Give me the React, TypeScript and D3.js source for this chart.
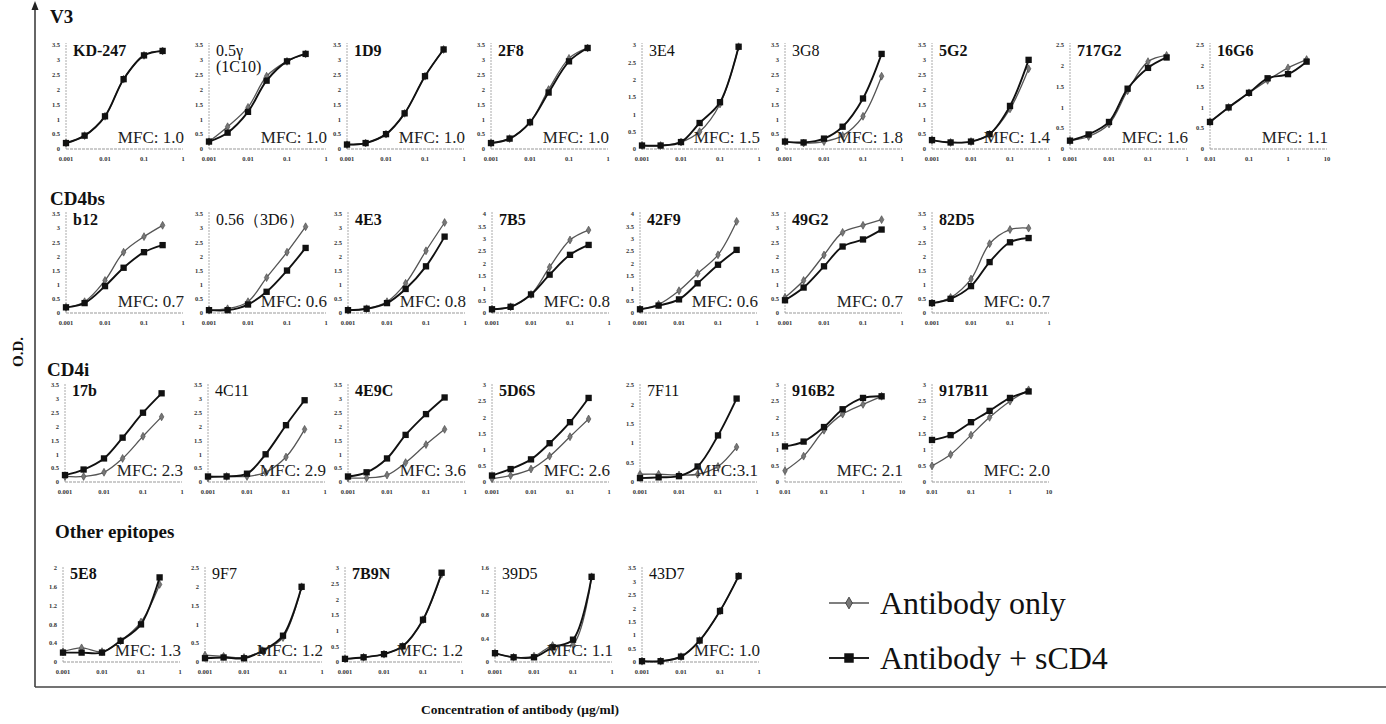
import React from 'react';
import * as d3 from 'd3';

const W = 1386;
const H = 724;
const SERIF = '"Liberation Serif", "Times New Roman", "DejaVu Serif", serif';
const PANEL_W = 117;

// ---- data ----
const sectionTitles = ['V3', 'CD4bs', 'CD4i', 'Other epitopes'];

const panelNames = [
  ['KD-247', '0.5γ\n(1C10)', '1D9', '2F8', '3E4', '3G8', '5G2', '717G2', '16G6'],
  ['b12', '0.56（3D6）', '4E3', '7B5', '42F9', '49G2', '82D5'],
  ['17b', '4C11', '4E9C', '5D6S', '7F11', '916B2', '917B11'],
  ['5E8', '9F7', '7B9N', '39D5', '43D7'],
];

const mfcLabels = [
  ['MFC: 1.0', 'MFC: 1.0', 'MFC: 1.0', 'MFC: 1.0', 'MFC: 1.5', 'MFC: 1.8', 'MFC: 1.4', 'MFC: 1.6', 'MFC: 1.1'],
  ['MFC: 0.7', 'MFC: 0.6', 'MFC: 0.8', 'MFC: 0.8', 'MFC: 0.6', 'MFC: 0.7', 'MFC: 0.7'],
  ['MFC: 2.3', 'MFC: 2.9', 'MFC: 3.6', 'MFC: 2.6', 'MFC:3.1', 'MFC: 2.1', 'MFC: 2.0'],
  ['MFC: 1.3', 'MFC: 1.2', 'MFC: 1.2', 'MFC: 1.1', 'MFC: 1.0'],
];

// antibody concentrations (µg/ml)
const concLow = [0.001, 0.003, 0.01, 0.03, 0.1, 0.3];
const concHigh = [0.01, 0.03, 0.1, 0.3, 1, 3];
const highRangePanels = ['16G6', '916B2', '917B11'];

const xTicksLow = [0.001, 0.01, 0.1, 1];
const xTicksHigh = [0.01, 0.1, 1, 10];

const ticks40 = [0, 0.5, 1, 1.5, 2, 2.5, 3, 3.5, 4];
const ticks35 = [0, 0.5, 1, 1.5, 2, 2.5, 3, 3.5];
const ticks30 = [0, 0.5, 1, 1.5, 2, 2.5, 3];
const ticks25 = [0, 0.5, 1, 1.5, 2, 2.5];
const ticks20 = [0, 0.4, 0.8, 1.2, 1.6, 2];
const ticks16 = [0, 0.4, 0.8, 1.2, 1.6];

const panelTicks = [
  [ticks35, ticks35, ticks35, ticks35, ticks30, ticks35, ticks35, ticks25, ticks25],
  [ticks35, ticks35, ticks35, ticks40, ticks40, ticks35, ticks35],
  [ticks35, ticks35, ticks35, ticks30, ticks25, ticks30, ticks30],
  [ticks20, ticks25, ticks30, ticks16, ticks35],
];

// O.D. — antibody only
const onlyValues = [
  [
    [0.2, 0.45, 1.1, 2.35, 3.15, 3.3],
    [0.25, 0.75, 1.4, 2.45, 2.95, 3.2],
    [0.15, 0.2, 0.5, 1.2, 2.45, 3.35],
    [0.2, 0.35, 0.9, 2.0, 3.05, 3.4],
    [0.1, 0.1, 0.2, 0.5, 1.3, 2.95],
    [0.25, 0.2, 0.25, 0.45, 1.1, 2.45],
    [0.3, 0.22, 0.25, 0.5, 1.35, 2.7],
    [0.2, 0.3, 0.6, 1.4, 2.1, 2.25],
    [0.65, 1.0, 1.35, 1.65, 1.95, 2.15],
  ],
  [
    [0.2, 0.4, 1.15, 2.15, 2.7, 3.1],
    [0.1, 0.15, 0.4, 1.25, 2.15, 3.05],
    [0.1, 0.15, 0.4, 1.05, 2.2, 3.2],
    [0.15, 0.25, 0.75, 1.85, 2.95, 3.35],
    [0.15, 0.35, 0.9, 1.6, 2.35, 3.7],
    [0.55, 1.15, 2.05, 2.85, 3.1, 3.3],
    [0.35, 0.55, 1.2, 2.45, 2.95, 3.0],
  ],
  [
    [0.2, 0.2, 0.35, 0.85, 1.65, 2.35],
    [0.15, 0.2, 0.2, 0.35, 0.9, 1.9],
    [0.15, 0.15, 0.25, 0.7, 1.35, 1.9],
    [0.1, 0.2, 0.4, 0.8, 1.4, 1.95],
    [0.2, 0.2, 0.18, 0.2, 0.4, 0.9],
    [0.35, 0.8, 1.6, 2.1, 2.4, 2.65],
    [0.5, 0.85, 1.45, 2.0, 2.5, 2.85],
  ],
  [
    [0.22, 0.3, 0.22, 0.45, 0.85, 1.65],
    [0.18, 0.15, 0.12, 0.3, 0.65, 2.0],
    [0.1, 0.15, 0.25, 0.5, 1.35, 2.8],
    [0.15, 0.08, 0.1, 0.28, 0.3, 1.45],
    [0.03, 0.03, 0.2, 0.8, 1.9, 3.2],
  ],
];

// O.D. — antibody + sCD4
const scd4Values = [
  [
    [0.2, 0.45, 1.1, 2.35, 3.15, 3.3],
    [0.25, 0.55, 1.25, 2.3, 2.95, 3.2],
    [0.15, 0.2, 0.5, 1.2, 2.45, 3.35],
    [0.2, 0.35, 0.9, 1.9, 2.95, 3.4],
    [0.1, 0.1, 0.2, 0.75, 1.35, 2.95],
    [0.25, 0.22, 0.35, 0.75, 1.7, 3.2],
    [0.3, 0.22, 0.25, 0.5, 1.45, 3.0],
    [0.2, 0.35, 0.65, 1.45, 1.95, 2.2],
    [0.65, 1.0, 1.35, 1.7, 1.8, 2.1],
  ],
  [
    [0.2, 0.35, 0.95, 1.6, 2.15, 2.4],
    [0.1, 0.1, 0.3, 0.75, 1.5, 2.3],
    [0.1, 0.15, 0.35, 0.85, 1.65, 2.7],
    [0.15, 0.25, 0.75, 1.55, 2.35, 2.75],
    [0.15, 0.3, 0.55, 1.2, 1.95, 2.55],
    [0.45, 0.9, 1.65, 2.35, 2.6, 2.95],
    [0.35, 0.5, 0.95, 1.8, 2.5, 2.65],
  ],
  [
    [0.25, 0.45, 0.85, 1.6, 2.5, 3.2],
    [0.2, 0.2, 0.3, 1.0, 2.05, 2.95],
    [0.2, 0.35, 0.85, 1.7, 2.45, 3.05],
    [0.2, 0.4, 0.7, 1.2, 1.85, 2.6],
    [0.1, 0.12, 0.15, 0.4, 1.2, 2.15],
    [1.1, 1.25, 1.7, 2.25, 2.6, 2.65],
    [1.3, 1.45, 1.85, 2.2, 2.6, 2.8],
  ],
  [
    [0.2, 0.2, 0.2, 0.45, 0.8, 1.8],
    [0.1, 0.12, 0.1, 0.3, 0.7, 2.0],
    [0.1, 0.15, 0.25, 0.5, 1.35, 2.85],
    [0.15, 0.08, 0.08, 0.25, 0.38, 1.45],
    [0.03, 0.03, 0.2, 0.8, 1.9, 3.2],
  ],
];

const legendLabels = ['Antibody only', 'Antibody + sCD4'];

// ---- layout ----
const rows = [
  { titleX: 50, titleY: 23, top: 45, bottom: 149, xs: [66, 209, 347, 491, 642, 785, 932, 1070, 1210] },
  { titleX: 50, titleY: 205, top: 214, bottom: 313, xs: [66, 209, 348, 492, 640, 785, 932] },
  { titleX: 47, titleY: 376, top: 385, bottom: 482, xs: [65, 208, 348, 492, 640, 785, 932] },
  { titleX: 55, titleY: 538, top: 568, bottom: 662, xs: [63, 205, 345, 495, 642] },
];
const lightLabels = new Set(['0.5γ\n(1C10)', '3E4', '3G8', '0.56（3D6）', '4C11', '7F11', '9F7', '39D5', '43D7']);

const diamond = d3.symbol(d3.symbolDiamond, 18)() as string;
const square = d3.symbol(d3.symbolSquare, 40)() as string;

function Panel({ x0, top, bottom, name, mfc, ticks, only, scd4 }: any) {
  const high = highRangePanels.includes(name);
  const conc = high ? concHigh : concLow;
  const xTicks = high ? xTicksHigh : xTicksLow;
  const x = d3.scaleLog().domain([xTicks[0], xTicks[xTicks.length - 1]]).range([x0, x0 + PANEL_W]);
  const y = d3.scaleLinear().domain([0, ticks[ticks.length - 1]]).range([bottom, top]);
  const line = d3
    .line<number>()
    .x((_, i) => x(conc[i]))
    .y((v) => y(v))
    .curve(d3.curveCatmullRom.alpha(0.5));
  const lines = name.split('\n');

  return (
    <g>
      {/* axes */}
      <line x1={x0} x2={x0} y1={bottom} y2={top - 2} stroke="#aaa" strokeWidth={1} strokeDasharray="2,1" />
      <line x1={x0} x2={x0 + PANEL_W} y1={bottom} y2={bottom} stroke="#999" strokeWidth={1} strokeDasharray="3,1" />
      {ticks.map((t: number) => (
        <text key={t} x={x0 - 6} y={y(t)} dy="0.35em" textAnchor="end" fontSize={6.5} fontWeight="bold" fill="#333" fontFamily={SERIF}>
          {String(t)}
        </text>
      ))}
      {xTicks.map((t) => (
        <text key={t} x={x(t)} y={bottom + 12} textAnchor="middle" fontSize={6.5} fontWeight="bold" fill="#333" fontFamily={SERIF}>
          {String(t)}
        </text>
      ))}
      {/* antibody only */}
      <path d={line(only) || ''} fill="none" stroke="#555" strokeWidth={1.3} />
      {only.map((v: number, i: number) => (
        <path key={i} d={diamond} transform={`translate(${x(conc[i])},${y(v)})`} fill="#777" stroke="#444" strokeWidth={0.6} />
      ))}
      {/* antibody + sCD4 */}
      <path d={line(scd4) || ''} fill="none" stroke="#111" strokeWidth={1.9} />
      {scd4.map((v: number, i: number) => (
        <path key={i} d={square} transform={`translate(${x(conc[i])},${y(v)})`} fill="#111" />
      ))}
      {/* labels */}
      {lines.map((l: string, i: number) => (
        <text
          key={i}
          x={x0 + 7}
          y={top + 11 + i * 16}
          fontSize={16}
          fontWeight={lightLabels.has(name) ? 'normal' : 'bold'}
          fill="#111"
          fontFamily={SERIF}
        >
          {l}
        </text>
      ))}
      <text x={x0 + PANEL_W + 1} y={bottom - 6} textAnchor="end" fontSize={17} fill="#222" fontFamily={SERIF}>
        {mfc}
      </text>
    </g>
  );
}

export default function App() {
  return (
    <svg width={W} height={H} viewBox={`0 0 ${W} ${H}`} style={{ position: 'absolute', left: 0, top: 0, background: '#fff' }}>
      <rect x={0} y={0} width={W} height={H} fill="#fff" />
      {/* outer frame */}
      <line x1={35} x2={35} y1={4} y2={687} stroke="#333" strokeWidth={1.5} />
      <path d="M35,1 L31.5,10 L38.5,10 Z" fill="#222" />
      <line x1={35} x2={W} y1={687} y2={687} stroke="#444" strokeWidth={1.5} />
      <text transform="translate(23,352) rotate(-90)" textAnchor="middle" fontSize={15} fontWeight="bold" fontFamily={SERIF} fill="#111">
        O.D.
      </text>
      <text x={520} y={714} textAnchor="middle" fontSize={13.5} fontWeight="bold" fontFamily={SERIF} fill="#111">
        Concentration of antibody (μg/ml)
      </text>

      {rows.map((r, ri) => (
        <g key={ri}>
          <text x={r.titleX} y={r.titleY} fontSize={19} fontWeight="bold" fontFamily={SERIF} fill="#111">
            {sectionTitles[ri]}
          </text>
          {panelNames[ri].map((name, pi) => (
            <Panel
              key={name}
              x0={r.xs[pi]}
              top={r.top}
              bottom={r.bottom}
              name={name}
              mfc={mfcLabels[ri][pi]}
              ticks={panelTicks[ri][pi]}
              only={onlyValues[ri][pi]}
              scd4={scd4Values[ri][pi]}
            />
          ))}
        </g>
      ))}

      {/* legend */}
      <g>
        <line x1={829} x2={869} y1={603} y2={603} stroke="#555" strokeWidth={1.5} />
        <path d={d3.symbol(d3.symbolDiamond, 40)() as string} transform="translate(849,603)" fill="#777" stroke="#333" strokeWidth={0.8} />
        <text x={880} y={614} fontSize={32} fontFamily={SERIF} fill="#111">
          {legendLabels[0]}
        </text>
        <line x1={829} x2={869} y1={658} y2={658} stroke="#222" strokeWidth={2} />
        <path d={d3.symbol(d3.symbolSquare, 90)() as string} transform="translate(849,658)" fill="#111" />
        <text x={880} y={669} fontSize={32} fontFamily={SERIF} fill="#111">
          {legendLabels[1]}
        </text>
      </g>
    </svg>
  );
}
